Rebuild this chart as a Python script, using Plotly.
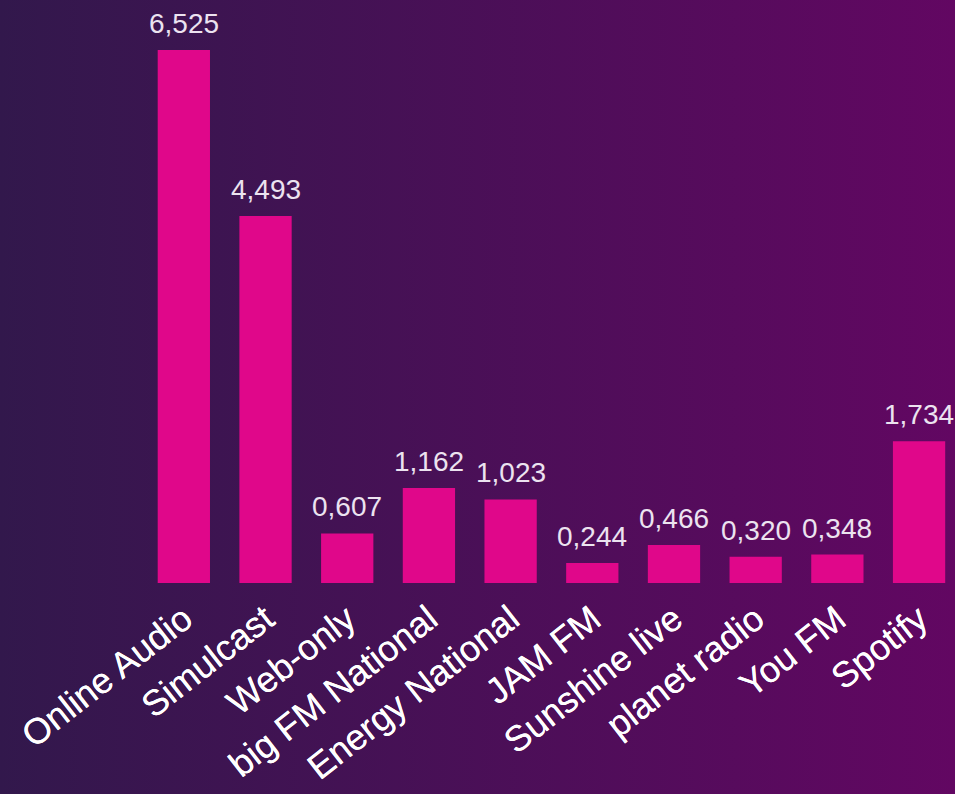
import base64
import plotly.graph_objects as go

categories = ["Online Audio", "Simulcast", "Web-only", "big FM National", "Energy National",
              "JAM FM", "Sunshine live", "planet radio", "You FM", "Spotify"]
values = [6.525, 4.493, 0.607, 1.162, 1.023, 0.244, 0.466, 0.320, 0.348, 1.734]

W, H = 955, 794
BG_LEFT = "#32184c"
BG_RIGHT = "#620762"
BAR = "#e0078a"

svg = f'''<svg xmlns="http://www.w3.org/2000/svg" width="{W}" height="{H}" preserveAspectRatio="none">
<defs><linearGradient id="g" x1="0" y1="0" x2="1" y2="0">
<stop offset="0" stop-color="{BG_LEFT}"/><stop offset="1" stop-color="{BG_RIGHT}"/></linearGradient></defs>
<rect width="{W}" height="{H}" fill="url(#g)"/></svg>'''
src = "data:image/svg+xml;base64," + base64.b64encode(svg.encode()).decode()

fig = go.Figure(go.Bar(x=categories, y=values, marker=dict(color=BAR, line=dict(width=0)),
                       width=0.64, hoverinfo="skip"))

for c, v in zip(categories, values):
    fig.add_annotation(x=c, y=v, text=f"{v:.3f}".replace(".", ","), showarrow=False,
                       yanchor="bottom", yshift=9,
                       font=dict(family="Liberation Sans, Arial", size=28, color="#ece3f0"))

fig.update_layout(
    width=W, height=H,
    margin=dict(l=0, r=0, t=0, b=0),
    paper_bgcolor=BG_LEFT, plot_bgcolor="rgba(0,0,0,0)",
    showlegend=False,
    images=[dict(source=src, xref="paper", yref="paper", x=0, y=1, sizex=1, sizey=1,
                 sizing="stretch", xanchor="left", yanchor="top", layer="below")],
    xaxis=dict(domain=[143 / W, 1], range=[-0.5, 9.44], tickangle=-38,
               showline=False, showgrid=False, zeroline=False, ticks="",
               tickfont=dict(family="Liberation Sans, Arial", size=36, color="#ffffff",
                             shadow="0px 0px 0.6px #ffffff"),
               ticklabelstandoff=7,
               automargin=False),
    yaxis=dict(domain=[211 / H, 1], range=[0, 7.136], visible=False, automargin=False),
)

fig.write_html("out.html", config={"displayModeBar": False},
               post_script="document.body.style.margin='0';document.body.style.overflow='hidden';")
